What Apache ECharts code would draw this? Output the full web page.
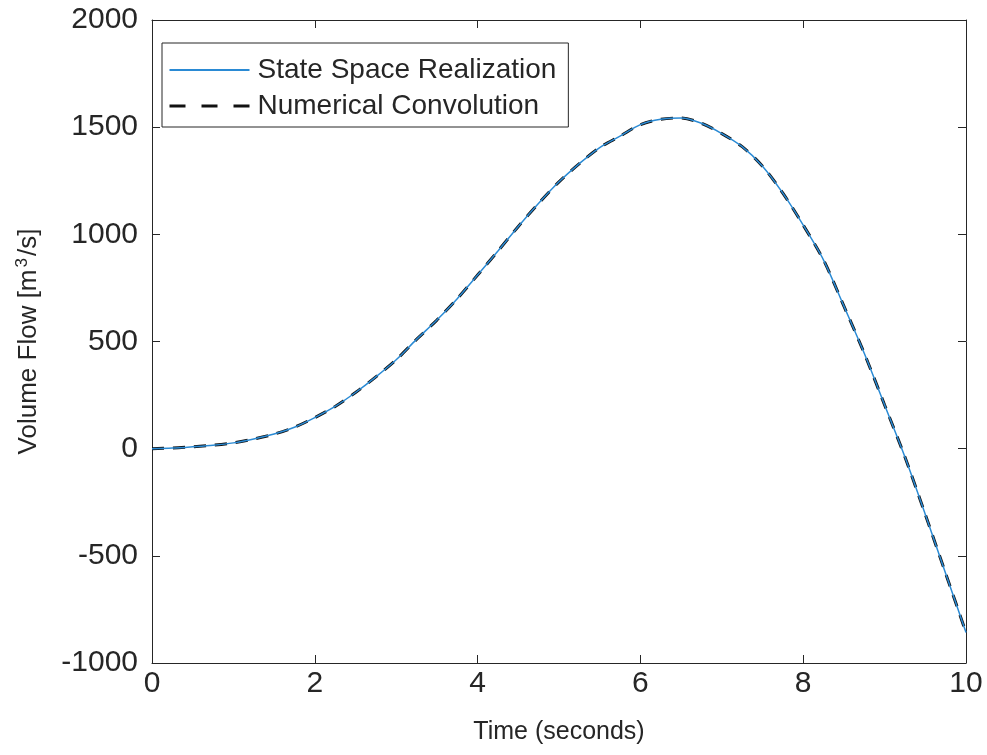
<!DOCTYPE html>
<html><head><meta charset="utf-8">
<script src="https://cdn.jsdelivr.net/npm/echarts@6/dist/echarts.min.js"></script>
<style>html,body{margin:0;padding:0;background:#fff}#c{width:987px;height:755px}</style>
</head><body><div id="c"></div>
<script>
const timeSeconds = [0,0.25,0.5,0.75,1,1.25,1.5,1.75,2,2.25,2.5,2.75,3,3.25,3.5,3.75,4,4.25,4.5,4.75,5,5.25,5.5,5.75,6,6.25,6.5,6.75,7,7.25,7.5,7.75,8,8.25,8.5,8.75,9,9.25,9.5,9.75,10];
const stateSpaceFlow = [0,3,9,16,27,45,68,100,145,197,262,335,415,510,600,700,810,922,1037,1145,1245,1330,1405,1458,1512,1537,1543,1518,1470,1409,1318,1192,1043,880,665,445,204,-39,-307,-582,-858];
const convolutionFlow = [0,3,9,16,27,45,68,100,145,197,262,335,415,510,600,700,810,922,1037,1145,1245,1330,1405,1458,1512,1537,1543,1518,1470,1409,1318,1192,1043,880,665,445,204,-39,-307,-582,-858];
const xTicks = [0,2,4,6,8,10];
const yTicks = [-1000,-500,0,500,1000,1500,2000];
const seriesNames = ['State Space Realization','Numerical Convolution'];

const pairs = (xs, ys) => xs.map((x, i) => [x, ys[i]]);
const ink = '#262626';
const font = 'Liberation Sans, Arial, Helvetica, sans-serif';
const chart = echarts.init(document.getElementById('c'), null, {renderer: 'canvas'});
const plain = v => String(v);
const baseX = {
  type: 'value', min: xTicks[0], max: xTicks[xTicks.length - 1], interval: xTicks[1] - xTicks[0],
  axisLine: {show: true, onZero: false, lineStyle: {color: ink, width: 1}},
  axisTick: {show: true, inside: true, length: 8, lineStyle: {color: ink}},
  splitLine: {show: false}
};
const baseY = {
  type: 'value', min: yTicks[0], max: yTicks[yTicks.length - 1], interval: yTicks[1] - yTicks[0],
  axisLine: {show: true, onZero: false, lineStyle: {color: ink, width: 1}},
  axisTick: {show: true, inside: true, length: 8, lineStyle: {color: ink}},
  splitLine: {show: false}
};
chart.setOption({
  animation: false,
  backgroundColor: '#fff',
  grid: {left: 152, right: 21, top: 20, bottom: 92, containLabel: false},
  legend: {
    orient: 'vertical', left: 162, top: 43,
    backgroundColor: '#fff', borderColor: ink, borderWidth: 1,
    padding: [13, 12, 7, 6], itemGap: 8, itemWidth: 80, itemHeight: 14,
    itemStyle: {opacity: 0},
    textStyle: {fontFamily: font, fontSize: 28, color: ink, padding: [0, 0, 0, 3]},
    data: [
      {name: seriesNames[0]},
      {name: seriesNames[1], lineStyle: {type: [16, 16], width: 3}}
    ]
  },
  xAxis: [
    Object.assign({}, baseX, {
      position: 'bottom',
      axisLabel: {show: true, color: ink, fontFamily: font, fontSize: 30, margin: 6, formatter: plain},
      name: 'Time (seconds)', nameLocation: 'middle', nameGap: 57,
      nameTextStyle: {color: ink, fontFamily: font, fontSize: 25}
    }),
    Object.assign({}, baseX, {position: 'top', axisLabel: {show: false}})
  ],
  yAxis: [
    Object.assign({}, baseY, {
      position: 'left',
      axisLabel: {show: true, color: ink, fontFamily: font, fontSize: 30, margin: 14, formatter: plain},
      name: 'Volume Flow [m{sup|3}/s]', nameLocation: 'middle', nameGap: 108,
      nameTextStyle: {
        color: ink, fontFamily: font, fontSize: 26, lineHeight: 30,
        rich: {sup: {color: ink, fontFamily: font, fontSize: 17, lineHeight: 17, verticalAlign: 'top', padding: [0, 2, 0, 2]}}
      }
    }),
    Object.assign({}, baseY, {position: 'right', axisLabel: {show: false}})
  ],
  series: [
    {
      name: seriesNames[0], type: 'line', data: pairs(timeSeconds, stateSpaceFlow),
      showSymbol: false, symbol: 'none', smooth: 0.3, z: 4,
      lineStyle: {color: '#2a8ad4', width: 1.5}, itemStyle: {color: '#2a8ad4'}
    },
    {
      name: seriesNames[1], type: 'line', data: pairs(timeSeconds, convolutionFlow),
      showSymbol: false, symbol: 'none', smooth: 0.3, z: 3,
      lineStyle: {color: '#111', width: 3, type: [12, 9]}, itemStyle: {color: '#111'}
    }
  ]
});
</script>
</body></html>
